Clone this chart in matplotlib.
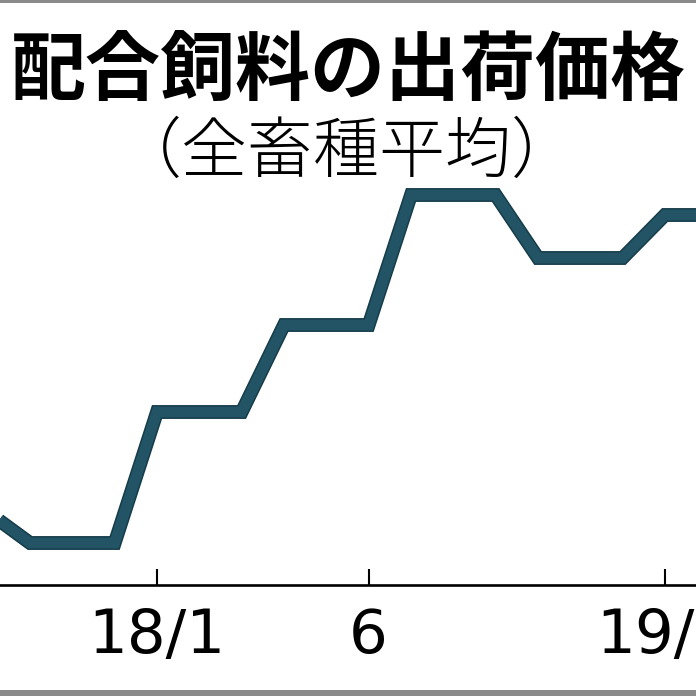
import matplotlib
matplotlib.use("Agg")
import matplotlib.pyplot as plt
import matplotlib.patheffects as pe
from matplotlib.patches import Rectangle

# monthly shipping price (yen / t), index 0 = 2018/1
months = [-4, -3, -2, -1, 0, 1, 2, 3, 4, 5, 6, 7, 8, 9, 10, 11, 12, 13, 14]
prices = [65210, 64900, 64900, 64900,
          66210, 66210, 66210,
          67080, 67080, 67080,
          68380, 68380, 68380,
          67750, 67750, 67750,
          68180, 68180, 68180]
tick_pos = [0, 5, 12]
tick_labels = ["18/1", "6", "19/1"]

title = "配合飼料の出荷価格"
subtitle = "（全畜種平均）"

W = H = 696
fig = plt.figure(figsize=(6.96, 6.96), dpi=100)
fig.patch.set_facecolor("white")

ax = fig.add_axes([0, 111 / H, 1, 585 / H])
ax.set_facecolor("none")
ax.plot(months, prices, color="#225466", lw=7.8, solid_joinstyle="miter",
        solid_capstyle="butt",
        path_effects=[pe.Stroke(linewidth=10, foreground="#163c4a"), pe.Normal()])

ax.set_xlim(-157 / 42.33, (W - 157) / 42.33)
ax.set_ylim(64480, 70330)
for s in ["top", "left", "right"]:
    ax.spines[s].set_visible(False)
ax.spines["bottom"].set_linewidth(1.9)
ax.set_yticks([])
ax.set_xticks(tick_pos)
ax.set_xticklabels(tick_labels, family="DejaVu Sans", fontsize=44)
ax.tick_params(axis="x", direction="in", length=11.5, width=1.5, pad=16, color="black")

fig.text(0.5, 1 - 72 / H, title, ha="center", va="center", fontsize=54,
         fontweight="bold", family=["Noto Sans CJK JP", "DejaVu Sans"])
fig.text(347 / W, 1 - 154 / H, subtitle, ha="center", va="center", fontsize=47.5,
         fontweight="light", family=["Noto Sans CJK JP", "DejaVu Sans"])

# dotted frame edges at top and bottom
fig.add_artist(Rectangle((0, 1 - 3 / H), 1, 3 / H, transform=fig.transFigure,
                         color="#8a8a8a", lw=0))
fig.add_artist(Rectangle((0, 0), 1, 6 / H, transform=fig.transFigure,
                         color="#8a8a8a", lw=0))

fig.savefig("out.png", dpi=100)
